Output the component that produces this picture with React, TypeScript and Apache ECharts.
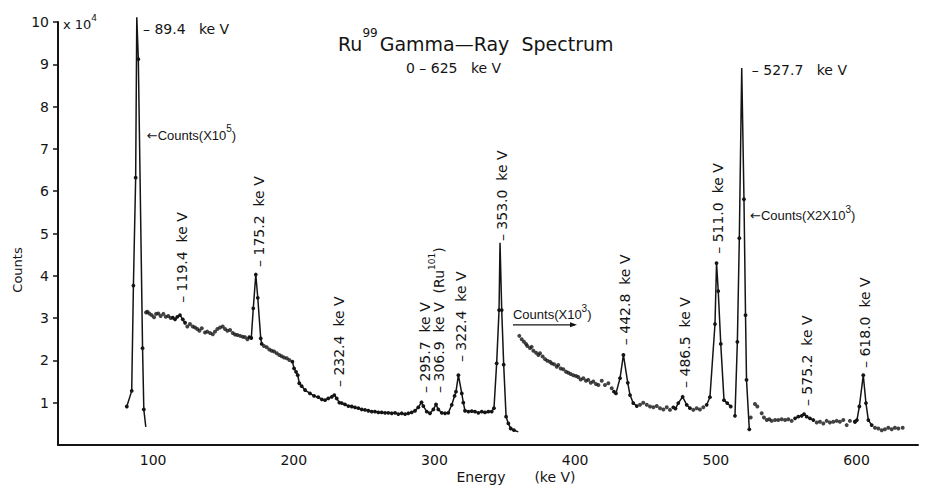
import React, { useEffect, useRef } from "react";
import * as echarts from "echarts";

// Axis ticks: energy (keV) and counts (x10^4)
const energyTicks = [100, 200, 300, 400, 500, 600];
const energyMin = 32.4;
const energyMax = 643.7;
const countMax = 10;

// 89.4 keV peak (plotted at x10^5 counts)
const peak89Energy = [81.3, 84.8, 86.0, 87.6, 88.4, 89.5, 92.5, 93.4, 94.8];
const peak89Counts = [0.91, 1.28, 3.77, 6.32, 10.11, 9.12, 2.29, 0.84, 0.43];

// Compton continuum, 95 - 113 keV
const dotsAEnergy = [95.0, 95.9, 97.3, 99.0, 100.7, 102.1, 103.7, 105.4, 107.3, 109.0, 110.8, 112.5];
const dotsACounts = [3.13, 3.15, 3.11, 3.07, 3.02, 3.10, 3.11, 3.05, 3.10, 3.03, 3.05, 3.0];

// 119.4 keV bump
const trace119Energy = [114.0, 115.6, 117.2, 119.1, 121.1, 122.7];
const trace119Counts = [3.01, 2.97, 3.03, 3.07, 2.97, 2.89];

// continuum 124 - 167 keV
const dotsBEnergy = [124.3, 126.2, 128.2, 129.8, 131.4, 132.9, 134.6, 136.9, 138.5, 140.5, 142.4, 144.0, 145.7, 147.6, 149.5, 151.1, 152.8, 154.7, 156.6, 158.2, 159.9, 161.8, 163.7, 165.3, 167.0];
const dotsBCounts = [2.8, 2.86, 2.8, 2.78, 2.74, 2.7, 2.76, 2.66, 2.68, 2.65, 2.62, 2.68, 2.74, 2.78, 2.8, 2.74, 2.7, 2.72, 2.65, 2.61, 2.6, 2.58, 2.56, 2.55, 2.5];

// 175.2 keV peak
const trace175Energy = [168.4, 169.8, 171.2, 173.0, 174.4, 176.5, 177.2];
const trace175Counts = [2.55, 2.53, 3.23, 4.03, 3.48, 2.52, 2.39];

// continuum 178 - 197 keV
const dotsCEnergy = [178.8, 180.8, 182.6, 184.3, 186.0, 187.9, 189.7, 191.4, 193.1, 195.0, 196.8];
const dotsCCounts = [2.34, 2.31, 2.26, 2.23, 2.21, 2.17, 2.13, 2.1, 2.07, 2.05, 2.01];

// 199 - 360 keV: 232.4, 295.7, 306.9, 322.4 and 353.0 keV peaks
const traceMidEnergy = [199.0, 200.2, 201.6, 202.8, 203.9, 205.6, 208.0, 211.5, 214.4, 217.4, 219.9, 222.2, 224.5, 227.0, 228.8, 230.5, 232.4, 234.1, 236.4, 238.8, 241.2, 243.5, 245.9, 248.3, 250.6, 253.0, 255.4, 257.7, 260.1, 262.5, 264.9, 267.2, 269.6, 272.0, 274.3, 276.7, 279.1, 281.4, 283.8, 286.2, 288.5, 290.8, 292.1, 294.5, 296.8, 299.2, 301.1, 302.7, 305.2, 307.5, 309.8, 312.3, 314.3, 315.3, 317.0, 319.4, 320.5, 321.7, 324.1, 326.5, 328.8, 331.2, 333.6, 335.9, 338.3, 340.7, 342.3, 344.2, 345.9, 346.6, 347.8, 349.2, 350.9, 352.5, 354.2, 356.5, 359.6];
const traceMidCounts = [1.97, 1.81, 1.73, 1.65, 1.46, 1.39, 1.3, 1.22, 1.16, 1.13, 1.08, 1.06, 1.1, 1.14, 1.18, 1.1, 1.0, 0.99, 0.96, 0.92, 0.91, 0.89, 0.87, 0.84, 0.83, 0.81, 0.79, 0.79, 0.77, 0.77, 0.76, 0.76, 0.75, 0.76, 0.73, 0.75, 0.73, 0.75, 0.77, 0.81, 0.89, 1.01, 0.92, 0.79, 0.75, 0.84, 0.96, 0.84, 0.76, 0.75, 0.76, 0.95, 1.16, 1.26, 1.65, 1.22, 1.0, 0.81, 0.79, 0.8, 0.79, 0.76, 0.79, 0.77, 0.79, 0.79, 0.87, 1.93, 3.19, 4.78, 3.19, 1.9, 0.67, 0.51, 0.39, 0.35, 0.31];

// continuum 360 - 426 keV (plotted at x10^3 counts)
const dotsDEnergy = [360.3, 362.0, 363.6, 365.1, 366.0, 367.9, 369.1, 370.3, 372.2, 373.8, 375.0, 376.9, 378.6, 380.2, 382.1, 383.3, 385.0, 386.9, 388.0, 389.7, 391.6, 393.5, 395.1, 396.8, 398.7, 400.6, 402.2, 403.9, 405.8, 407.7, 409.3, 411.1, 412.9, 414.8, 416.5, 418.9, 421.2, 423.6, 426.0];
const dotsDCounts = [2.58, 2.5, 2.44, 2.39, 2.34, 2.29, 2.32, 2.23, 2.18, 2.13, 2.17, 2.09, 2.03, 1.99, 1.97, 1.93, 1.91, 1.85, 1.89, 1.81, 1.79, 1.73, 1.71, 1.68, 1.65, 1.63, 1.61, 1.55, 1.58, 1.52, 1.54, 1.47, 1.5, 1.44, 1.42, 1.52, 1.42, 1.46, 1.34];

// 442.8 keV peak
const trace442Energy = [427.6, 429.0, 431.9, 434.3, 437.4, 439.0, 441.3, 443.8];
const trace442Counts = [1.26, 1.22, 1.58, 2.13, 1.47, 1.18, 0.99, 0.92];

const dotsEEnergy = [446.1, 448.4, 450.9, 453.2, 455.6, 458.0, 460.3, 462.7, 465.1, 467.4];
const dotsECounts = [0.95, 1.0, 0.95, 0.91, 0.89, 0.92, 0.87, 0.84, 0.89, 0.83];

// 486.5 keV peak
const trace486Energy = [469.8, 471.3, 473.3, 476.4, 479.3, 481.6];
const trace486Counts = [0.89, 0.86, 0.99, 1.14, 0.95, 0.87];

const dotsFEnergy = [484.0, 486.4, 488.7, 491.1];
const dotsFCounts = [0.83, 0.87, 0.84, 0.89];

// 511.0 keV annihilation peak
const trace511Energy = [493.5, 495.8, 499.4, 500.5, 501.7, 503.5, 505.8, 508.1, 510.6];
const trace511Counts = [0.95, 1.13, 2.86, 4.3, 3.64, 2.39, 1.06, 0.99, 0.91];

// 527.7 keV peak (plotted at x2x10^3 counts)
const trace527Energy = [513.6, 515.3, 516.7, 518.4, 520.0, 521.1, 521.8, 523.8];
const trace527Counts = [0.69, 2.44, 4.89, 8.91, 5.81, 3.07, 1.54, 0.37];

const dotsGEnergy = [524.8, 527.8, 529.5, 532.6, 534.2, 536.2, 538.0, 539.7, 542.1, 544.4, 546.8, 549.2, 551.5, 553.9];
const dotsGCounts = [0.65, 0.97, 0.91, 0.75, 0.65, 0.59, 0.61, 0.57, 0.59, 0.59, 0.61, 0.59, 0.61, 0.57];

// 575.2 keV bump
const trace575Energy = [556.3, 558.6, 561.0, 562.7, 564.6, 566.9, 569.3];
const trace575Counts = [0.63, 0.67, 0.69, 0.73, 0.67, 0.63, 0.59];

const dotsHEnergy = [571.7, 574.0, 576.4, 578.8, 581.1, 583.5, 585.9, 588.2, 590.6, 593.0, 595.3, 598.9];
const dotsHCounts = [0.53, 0.55, 0.51, 0.57, 0.53, 0.55, 0.57, 0.55, 0.59, 0.47, 0.57, 0.55];

// 618.0 keV peak
const trace618Energy = [598.9, 600.3, 602.0, 604.8, 606.7, 608.4, 610.8];
const trace618Counts = [0.55, 0.59, 0.91, 1.65, 0.99, 0.59, 0.47];

const dotsIEnergy = [613.1, 615.5, 617.9, 620.2, 622.6, 625.0, 627.3, 629.7, 632.8];
const dotsICounts = [0.41, 0.39, 0.35, 0.37, 0.41, 0.37, 0.41, 0.39, 0.41];

// trace vertices drawn without a point marker
const apexOnly = [88.4, 94.8, 346.6, 359.6, 518.4];

// vertical peak labels: text, anchor energy, anchor counts (bottom of label)
const peakLabelText = ["119.4", "175.2", "232.4", "295.7", "306.9", "322.4", "353.0", "442.8", "486.5", "511.0", "575.2", "618.0"];
const peakLabelEnergy = [119.1, 173.9, 230.7, 291.6, 301.6, 317.7, 346.6, 434.2, 476.9, 500.1, 563.4, 604.8];
const peakLabelCounts = [3.36, 4.21, 1.37, 1.23, 1.23, 1.96, 4.82, 2.36, 1.35, 4.52, 0.92, 1.82];

// horizontal peak labels
const sideLabelText = ["89.4", "527.7"];
const sideLabelEnergy = [92.8, 525.6];
const sideLabelCounts = [9.83, 8.87];

const traces: [number[], number[]][] = [
  [peak89Energy, peak89Counts],
  [trace119Energy, trace119Counts],
  [trace175Energy, trace175Counts],
  [traceMidEnergy, traceMidCounts],
  [trace442Energy, trace442Counts],
  [trace486Energy, trace486Counts],
  [trace511Energy, trace511Counts],
  [trace527Energy, trace527Counts],
  [trace575Energy, trace575Counts],
  [trace618Energy, trace618Counts],
];

const dotGroups: [number[], number[]][] = [
  [dotsAEnergy, dotsACounts],
  [dotsBEnergy, dotsBCounts],
  [dotsCEnergy, dotsCCounts],
  [dotsDEnergy, dotsDCounts],
  [dotsEEnergy, dotsECounts],
  [dotsFEnergy, dotsFCounts],
  [dotsGEnergy, dotsGCounts],
  [dotsHEnergy, dotsHCounts],
  [dotsIEnergy, dotsICounts],
];

const INK = "#141414";
const FONT = "'DejaVu Sans', sans-serif";
const NOTE_FONT = "'Liberation Sans', 'DejaVu Sans', sans-serif";

export default function App() {
  const ref = useRef<HTMLDivElement>(null);

  useEffect(() => {
    if (!ref.current) return;
    const chart = echarts.init(ref.current, undefined, { renderer: "svg" });

    const traceSeries = traces.map(([es, cs]) => ({
      type: "line",
      data: es.map((e, i) => ({
        value: [e, cs[i]],
        symbolSize: apexOnly.includes(e) ? 0 : 3.8,
      })),
      symbol: "circle",
      showSymbol: true,
      showAllSymbol: true,
      clip: false,
      silent: true,
      lineStyle: { color: INK, width: 1.5 },
      itemStyle: { color: INK },
    }));

    const dotData: number[][] = [];
    dotGroups.forEach(([es, cs]) => es.forEach((e, i) => dotData.push([e, cs[i]])));

    chart.setOption({
      animation: false,
      backgroundColor: "#ffffff",
      grid: { left: 58, right: 10, top: 22, bottom: 40 },
      xAxis: {
        type: "value",
        min: energyMin,
        max: energyMax,
        axisLine: { lineStyle: { color: INK, width: 2 } },
        axisTick: { show: false },
        splitLine: { show: false },
        axisLabel: {
          customValues: energyTicks,
          color: INK,
          fontFamily: FONT,
          fontSize: 14,
          margin: 8,
        },
      },
      yAxis: {
        type: "value",
        min: 0,
        max: countMax,
        interval: 1,
        axisLine: { show: true, lineStyle: { color: INK, width: 2 } },
        axisTick: { show: true, length: 5, lineStyle: { color: INK, width: 1.5 } },
        splitLine: { show: false },
        axisLabel: {
          showMinLabel: false,
          color: INK,
          fontFamily: FONT,
          fontSize: 14,
          margin: 9,
        },
      },
      series: [
        ...traceSeries,
        {
          type: "scatter",
          data: dotData,
          symbol: "circle",
          symbolSize: 4,
          silent: true,
          itemStyle: { color: INK },
        },
      ],
    });

    const P = (e: number, c: number) => chart.convertToPixel({ gridIndex: 0 }, [e, c]) as number[];

    const graphics: any[] = [];

    // title and subtitle
    graphics.push({
      type: "text",
      x: 338,
      y: 40,
      style: {
        text: "{a|Ru}{s|99}{a|Gamma—Ray  Spectrum}",
        textAlign: "left",
        textVerticalAlign: "middle",
        fill: INK,
        rich: {
          a: { fontFamily: FONT, fontSize: 19, lineHeight: 26, fill: INK, verticalAlign: "bottom" },
          s: { fontFamily: FONT, fontSize: 12, lineHeight: 26, fill: INK, verticalAlign: "top", padding: [0, 2, 8, 0] },
        },
      },
    });
    graphics.push({
      type: "text",
      x: 406,
      y: 68,
      style: {
        text: "0 – 625   ke V",
        font: `14px ${FONT}`,
        fill: INK,
        textAlign: "left",
        textVerticalAlign: "middle",
      },
    });

    // y-axis unit and name
    graphics.push({
      type: "text",
      x: 63,
      y: 22,
      style: {
        text: "{a|x 10}{s|4}",
        textAlign: "left",
        textVerticalAlign: "middle",
        rich: {
          a: { fontFamily: FONT, fontSize: 13, lineHeight: 18, fill: INK, verticalAlign: "bottom" },
          s: { fontFamily: FONT, fontSize: 9, lineHeight: 18, fill: INK, verticalAlign: "top", padding: [0, 0, 6, 0] },
        },
      },
    });
    graphics.push({
      type: "text",
      x: 17,
      y: 270,
      rotation: Math.PI / 2,
      style: {
        text: "Counts",
        font: `13px ${FONT}`,
        fill: INK,
        textAlign: "center",
        textVerticalAlign: "middle",
      },
    });

    // x-axis name
    graphics.push({
      type: "text",
      x: 481,
      y: 477,
      style: { text: "Energy", font: `14px ${FONT}`, fill: INK, textAlign: "center", textVerticalAlign: "middle" },
    });
    graphics.push({
      type: "text",
      x: 555,
      y: 477,
      style: { text: "(ke V)", font: `14px ${FONT}`, fill: INK, textAlign: "center", textVerticalAlign: "middle" },
    });

    // vertical peak labels
    peakLabelText.forEach((t, i) => {
      const [x, y] = P(peakLabelEnergy[i], peakLabelCounts[i]);
      const isRu101 = t === "306.9";
      graphics.push({
        type: "text",
        x,
        y,
        rotation: Math.PI / 2,
        style: {
          text: isRu101 ? `{n|– ${t}  ke V  (Ru}{s|101}{n|)}` : `{n|– ${t}  ke V}`,
          textAlign: "left",
          textVerticalAlign: "middle",
          rich: {
            n: { fontFamily: FONT, fontSize: 14, lineHeight: 18, fill: INK, verticalAlign: "bottom" },
            s: { fontFamily: FONT, fontSize: 9, lineHeight: 18, fill: INK, verticalAlign: "top", padding: [0, 0, 6, 0] },
          },
        },
      });
    });

    // horizontal peak labels
    sideLabelText.forEach((t, i) => {
      const [x, y] = P(sideLabelEnergy[i], sideLabelCounts[i]);
      graphics.push({
        type: "text",
        x,
        y,
        style: {
          text: `– ${t}   ke V`,
          font: `14px ${FONT}`,
          fill: INK,
          textAlign: "left",
          textVerticalAlign: "middle",
        },
      });
    });

    // scale notes
    const noteRich = {
      a: { fontFamily: NOTE_FONT, fontSize: 13, lineHeight: 18, fill: INK, verticalAlign: "bottom" },
      r: { fontFamily: FONT, fontSize: 13, lineHeight: 18, fill: INK, verticalAlign: "bottom" },
      s: { fontFamily: NOTE_FONT, fontSize: 10, lineHeight: 18, fill: INK, verticalAlign: "top", padding: [0, 0, 6, 0] },
    };
    const [n1x, n1y] = P(95.5, 7.38);
    graphics.push({
      type: "text",
      x: n1x,
      y: n1y,
      style: { text: "{r|←}{a|Counts(X10}{s|5}{a|)}", textAlign: "left", textVerticalAlign: "middle", rich: noteRich },
    });
    const [n2x, n2y] = P(524.3, 5.48);
    graphics.push({
      type: "text",
      x: n2x,
      y: n2y,
      style: { text: "{r|←}{a|Counts(X2X10}{s|3}{a|)}", textAlign: "left", textVerticalAlign: "middle", rich: noteRich },
    });
    const [n3x, n3y] = P(355.8, 2.93);
    graphics.push({
      type: "text",
      x: n3x,
      y: n3y,
      style: { text: "{a|Counts(X10}{s|3}{a|)}", textAlign: "left", textVerticalAlign: "bottom", rich: noteRich },
    });
    const [a1x, a1y] = P(355.8, 2.84);
    const [a2x] = P(401.3, 2.84);
    graphics.push({
      type: "line",
      shape: { x1: a1x, y1: a1y, x2: a2x - 2, y2: a1y },
      style: { stroke: INK, lineWidth: 1.2 },
    });
    graphics.push({
      type: "polygon",
      shape: { points: [[a2x, a1y], [a2x - 7, a1y - 2.5], [a2x - 7, a1y + 2.5]] },
      style: { fill: INK },
    });

    chart.setOption({ graphic: graphics });

    return () => chart.dispose();
  }, []);

  return (
    <div
      ref={ref}
      style={{ position: "fixed", left: 0, top: 0, width: 928, height: 485, background: "#fff" }}
    />
  );
}
